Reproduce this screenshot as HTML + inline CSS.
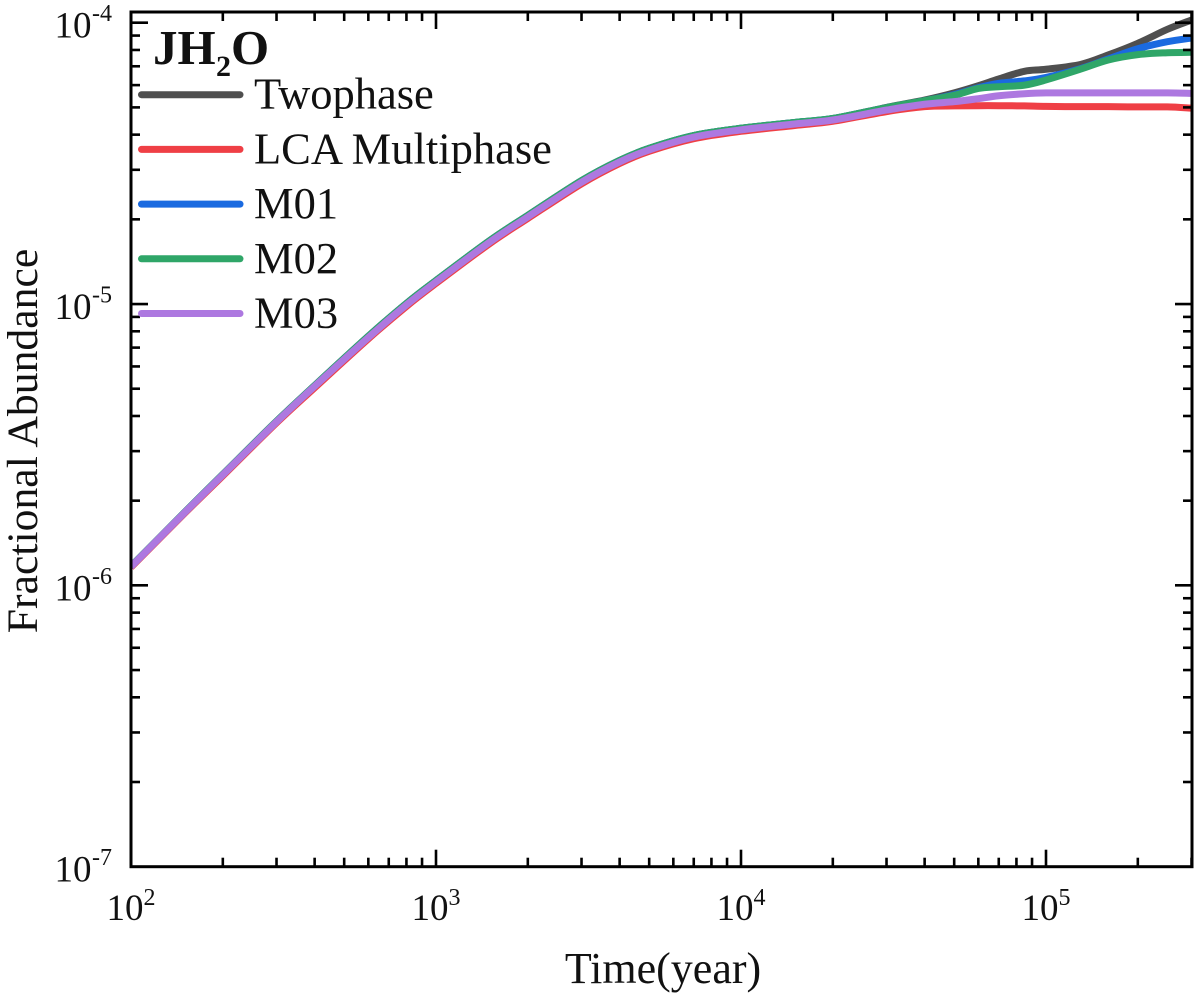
<!DOCTYPE html>
<html lang="en">
<head>
<meta charset="utf-8">
<title>JH2O Fractional Abundance</title>
<style>
html,body{margin:0;padding:0;background:#fff;width:1200px;height:999px;overflow:hidden}
svg{display:block}
text{font-family:"Liberation Serif",serif;fill:#111}
</style>
</head>
<body>
<svg id="chart" width="1200" height="999" viewBox="0 0 1200 999" xmlns="http://www.w3.org/2000/svg">
<defs><clipPath id="plot-clip"><rect x="131" y="12" width="1061" height="855"/></clipPath></defs>
<g id="series-layer" clip-path="url(#plot-clip)"></g>
<g id="axis-layer"></g>
<g id="legend-layer"></g>
<text x="663" y="983" font-size="44" text-anchor="middle">Time(year)</text>
<text transform="translate(37,441) rotate(-90)" font-size="43.7" text-anchor="middle">Fractional Abundance</text>
<text x="153" y="64" font-size="49" font-weight="bold">JH</text>
<text x="216" y="76" font-size="30" font-weight="bold">2</text>
<text x="231" y="64" font-size="49" font-weight="bold">O</text>
</svg>
<script>
const times = [100,150,200,300,400,600,800,1000,1500,2000,3000,4000,5000,7000,10000,15000,20000,30000,40000,50000,60000,70000,85000,100000,130000,160000,200000,250000,300000];
const twophase = [1.168e-6,1.82e-6,2.48e-6,3.83e-6,5.13e-6,7.68e-6,1.005e-5,1.212e-5,1.68e-5,2.065e-5,2.745e-5,3.24e-5,3.575e-5,3.97e-5,4.215e-5,4.42e-5,4.565e-5,5.0e-5,5.31e-5,5.63e-5,5.97e-5,6.31e-5,6.72e-5,6.83e-5,7.11e-5,7.68e-5,8.45e-5,9.47e-5,1.022e-4];
const lcaMultiphase = [1.16e-6,1.805e-6,2.45e-6,3.78e-6,5.04e-6,7.52e-6,9.81e-6,1.184e-5,1.64e-5,2.015e-5,2.675e-5,3.16e-5,3.49e-5,3.87e-5,4.11e-5,4.31e-5,4.46e-5,4.83e-5,5.03e-5,5.06e-5,5.07e-5,5.07e-5,5.06e-5,5.04e-5,5.03e-5,5.03e-5,5.02e-5,5.02e-5,4.97e-5];
const m01 = [1.168e-6,1.82e-6,2.48e-6,3.83e-6,5.13e-6,7.68e-6,1.005e-5,1.212e-5,1.68e-5,2.065e-5,2.745e-5,3.24e-5,3.575e-5,3.97e-5,4.215e-5,4.42e-5,4.565e-5,4.99e-5,5.28e-5,5.55e-5,5.87e-5,6.09e-5,6.21e-5,6.39e-5,6.87e-5,7.43e-5,8.08e-5,8.56e-5,8.82e-5];
const m02 = [1.168e-6,1.82e-6,2.48e-6,3.83e-6,5.13e-6,7.68e-6,1.005e-5,1.212e-5,1.68e-5,2.065e-5,2.745e-5,3.24e-5,3.575e-5,3.97e-5,4.215e-5,4.42e-5,4.565e-5,4.99e-5,5.28e-5,5.52e-5,5.84e-5,5.92e-5,6.0e-5,6.26e-5,6.84e-5,7.37e-5,7.7e-5,7.82e-5,7.85e-5];
const m03 = [1.165e-6,1.815e-6,2.47e-6,3.81e-6,5.1e-6,7.6e-6,9.93e-6,1.198e-5,1.66e-5,2.04e-5,2.71e-5,3.2e-5,3.53e-5,3.92e-5,4.16e-5,4.365e-5,4.51e-5,4.89e-5,5.13e-5,5.24e-5,5.37e-5,5.5e-5,5.59e-5,5.63e-5,5.63e-5,5.63e-5,5.63e-5,5.63e-5,5.61e-5];
const seriesNames = ["Twophase","LCA Multiphase","M01","M02","M03"];
const seriesColors = ["#4f4f4f","#ef3f45","#1a6ae0","#2fa668","#ad78e0"];
const seriesValues = [twophase,lcaMultiphase,m01,m02,m03];
const xDecades = [2,3,4,5];
const yDecades = [-4,-5,-6,-7];
const minorMultipliers = [2,3,4,5,6,7,8,9];

const NS = "http://www.w3.org/2000/svg";
const plotLeft = 131, plotRight = 1192, plotTop = 12, plotBottom = 866.7;
const xPerDecade = 305, yPerDecade = 281.33;
function xScale(t){ return plotLeft + (Math.log10(t) - 2) * xPerDecade; }
function yScale(v){ return 22.7 + (-4 - Math.log10(v)) * yPerDecade; }

function smoothPath(pts){
  let d = "M" + pts[0][0].toFixed(2) + " " + pts[0][1].toFixed(2);
  for (let i = 0; i < pts.length - 1; i++){
    const p0 = pts[Math.max(i - 1, 0)], p1 = pts[i], p2 = pts[i + 1], p3 = pts[Math.min(i + 2, pts.length - 1)];
    const c1x = p1[0] + (p2[0] - p0[0]) / 6, c1y = p1[1] + (p2[1] - p0[1]) / 6;
    const c2x = p2[0] - (p3[0] - p1[0]) / 6, c2y = p2[1] - (p3[1] - p1[1]) / 6;
    d += "C" + c1x.toFixed(2) + " " + c1y.toFixed(2) + " " + c2x.toFixed(2) + " " + c2y.toFixed(2) + " " + p2[0].toFixed(2) + " " + p2[1].toFixed(2);
  }
  return d;
}

const seriesLayer = document.getElementById("series-layer");
seriesValues.forEach(function(vals, i){
  const path = document.createElementNS(NS, "path");
  
  
  path.setAttribute("d", smoothPath(vals.map(function(v, j){ return [xScale(times[j]), yScale(v)]; })));
  path.setAttribute("fill", "none");
  path.setAttribute("stroke", seriesColors[i]);
  path.setAttribute("stroke-width", "7");
  path.setAttribute("stroke-linejoin", "round");
  seriesLayer.appendChild(path);
});

const axisLayer = document.getElementById("axis-layer");
function addLine(x1, y1, x2, y2, w, name){
  const l = document.createElementNS(NS, "line");
  
  
  l.setAttribute("x1", x1); l.setAttribute("y1", y1);
  l.setAttribute("x2", x2); l.setAttribute("y2", y2);
  l.setAttribute("stroke", "#000");
  l.setAttribute("stroke-width", w);
  axisLayer.appendChild(l);
}
function addLabel(base, exp, x, y, bx, by, name){
  const t = document.createElementNS(NS, "text");
  
  
  t.setAttribute("x", x); t.setAttribute("y", y);
  t.setAttribute("font-size", "37");
  t.textContent = base;
  axisLayer.appendChild(t);
  const e = document.createElementNS(NS, "text");
  
  
  e.setAttribute("x", bx); e.setAttribute("y", by);
  e.setAttribute("font-size", "24");
  e.textContent = exp;
  axisLayer.appendChild(e);
}

const majorLen = 17, minorLen = 9;
xDecades.forEach(function(d){
  const major = xScale(Math.pow(10, d));
  if (d > 2){
    addLine(major, plotBottom, major, plotBottom - majorLen, 2.6, 'x-major-tick-bottom');
    addLine(major, plotTop, major, plotTop + majorLen, 2.6, 'x-major-tick-top');
  }
  addLabel("10", String(d), major - 24.5, 920, major + 12.5, 905, 'x-tick-label');
  minorMultipliers.forEach(function(m){
    const t = m * Math.pow(10, d);
    if (xScale(t) >= plotRight) return;
    addLine(xScale(t), plotBottom, xScale(t), plotBottom - minorLen, 2.6, 'x-minor-tick-bottom');
    addLine(xScale(t), plotTop, xScale(t), plotTop + minorLen, 2.6, 'x-minor-tick-top');
  });
});
yDecades.forEach(function(d){
  const major = yScale(Math.pow(10, d));
  if (d > -7){
    addLine(plotLeft, major, plotLeft + majorLen, major, 2.6, 'y-major-tick-left');
    addLine(plotRight, major, plotRight - majorLen, major, 2.6, 'y-major-tick-right');
  }
  addLabel("10", String(d), 54.5, major + 15, 92, major - 1.5, 'y-tick-label');
  if (d === -4) return;
  minorMultipliers.forEach(function(m){
    const v = m * Math.pow(10, d);
    addLine(plotLeft, yScale(v), plotLeft + minorLen, yScale(v), 2.6, 'y-minor-tick-left');
    addLine(plotRight, yScale(v), plotRight - minorLen, yScale(v), 2.6, 'y-minor-tick-right');
  });
});
const frame = document.createElementNS(NS, "rect");


frame.setAttribute("x", plotLeft); frame.setAttribute("y", plotTop);
frame.setAttribute("width", plotRight - plotLeft); frame.setAttribute("height", plotBottom - plotTop);
frame.setAttribute("fill", "none");
frame.setAttribute("stroke", "#000");
frame.setAttribute("stroke-width", "3");
axisLayer.appendChild(frame);

const legendLayer = document.getElementById("legend-layer");
seriesNames.forEach(function(n, i){
  const cy = 94.7 + i * 54.7;
  const l = document.createElementNS(NS, "line");
  
  
  l.setAttribute("x1", 141.5); l.setAttribute("x2", 240);
  l.setAttribute("y1", cy); l.setAttribute("y2", cy);
  l.setAttribute("stroke", seriesColors[i]);
  l.setAttribute("stroke-width", "7");
  l.setAttribute("stroke-linecap", "round");
  legendLayer.appendChild(l);
  const t = document.createElementNS(NS, "text");
  
  
  t.setAttribute("x", 254); t.setAttribute("y", cy + 14);
  t.setAttribute("font-size", "44.5");
  t.textContent = n;
  legendLayer.appendChild(t);
});
</script>
</body>
</html>
